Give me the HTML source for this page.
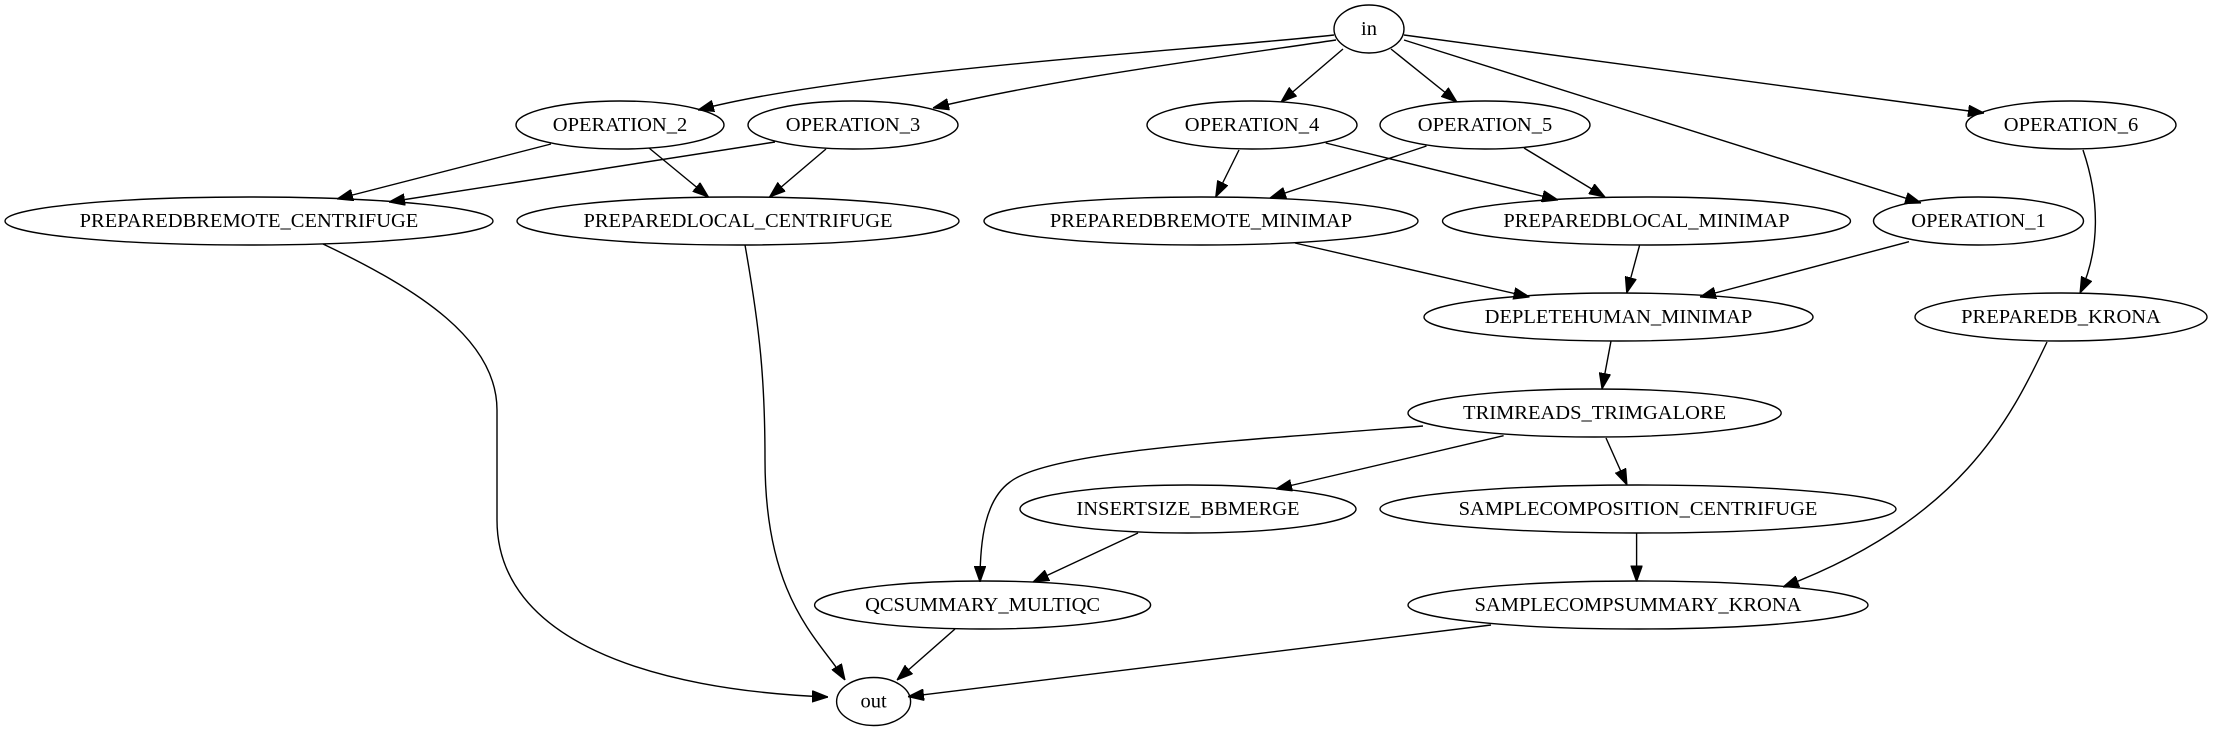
<!DOCTYPE html>
<html><head><meta charset="utf-8"><style>
html,body{margin:0;padding:0;background:#fff;}
svg{display:block;}
text{font-family:"Liberation Serif",serif;font-size:20.5px;fill:#000;text-anchor:middle;dominant-baseline:central;}
ellipse{fill:none;stroke:#000;stroke-width:1.4;}
path{fill:none;stroke:#000;stroke-width:1.4;}
</style></head><body>
<svg width="2213" height="731" viewBox="0 0 2213 731" xmlns="http://www.w3.org/2000/svg">
<defs><marker id="a" markerUnits="userSpaceOnUse" markerWidth="16" markerHeight="12" viewBox="0 0 14 10" refX="14" refY="5" orient="auto"><path d="M0,0 L14,5 L0,10 z" style="fill:#000;stroke:#000;stroke-width:1"/></marker></defs>
<g marker-end="url(#a)">
<path d="M1334,35 C1200,50 850,70 698,110"/>
<path d="M1336,40 C1200,60 1050,80 933,108"/>
<path d="M1343,49 L1281,102"/>
<path d="M1391,49 L1457,102"/>
<path d="M1404,40 L1921,203"/>
<path d="M1404,35 L1984,113"/>
<path d="M551,144 L337,199"/>
<path d="M649,148 L708.5,197"/>
<path d="M775,142 L389,202"/>
<path d="M826,149 L769.5,197"/>
<path d="M323,244 C420,290 497,340 497,410 L497,520 C497,640 650,690 828,697"/>
<path d="M745,245 C760,330 765,380 765,460 C765,600 820,640 845,680"/>
<path d="M1239,150 L1215.7,197"/>
<path d="M1325.7,143 L1558,200"/>
<path d="M1426.5,146 L1270,198"/>
<path d="M1524,148 L1605,197"/>
<path d="M2083,150 C2100,200 2100,250 2080,293"/>
<path d="M1295,243 L1529.5,297"/>
<path d="M1639.5,245.6 L1626.7,293"/>
<path d="M1909,241.7 L1700,297"/>
<path d="M1611,341 L1602,389"/>
<path d="M2047,342 C2010,420 1960,520 1783,587"/>
<path d="M1423,426 C1250,440 1050,450 1010,482 C985,500 980,540 980,582"/>
<path d="M1503.6,435.7 L1276,489"/>
<path d="M1606,438 L1627,485"/>
<path d="M1138,533 L1033,582"/>
<path d="M1636.6,533 L1636.6,581.7"/>
<path d="M955,629 L897,680"/>
<path d="M1491,625 L908,696.7"/>
</g>
<ellipse cx="1369" cy="29" rx="35" ry="24"/><text x="1369" y="29">in</text>
<ellipse cx="620" cy="125" rx="104" ry="24"/><text x="620" y="125">OPERATION_2</text>
<ellipse cx="853" cy="125" rx="105" ry="24"/><text x="853" y="125">OPERATION_3</text>
<ellipse cx="1252" cy="125" rx="105" ry="24"/><text x="1252" y="125">OPERATION_4</text>
<ellipse cx="1485" cy="125" rx="105" ry="24"/><text x="1485" y="125">OPERATION_5</text>
<ellipse cx="2071" cy="125" rx="105" ry="24"/><text x="2071" y="125">OPERATION_6</text>
<ellipse cx="249" cy="221" rx="244" ry="24"/><text x="249" y="221">PREPAREDBREMOTE_CENTRIFUGE</text>
<ellipse cx="738" cy="221" rx="221" ry="24"/><text x="738" y="221">PREPAREDLOCAL_CENTRIFUGE</text>
<ellipse cx="1201" cy="221" rx="217" ry="24"/><text x="1201" y="221">PREPAREDBREMOTE_MINIMAP</text>
<ellipse cx="1646.5" cy="221" rx="204" ry="24"/><text x="1646.5" y="221">PREPAREDBLOCAL_MINIMAP</text>
<ellipse cx="1978.5" cy="221" rx="105" ry="24"/><text x="1978.5" y="221">OPERATION_1</text>
<ellipse cx="1618.5" cy="317" rx="194.5" ry="24"/><text x="1618.5" y="317">DEPLETEHUMAN_MINIMAP</text>
<ellipse cx="2061" cy="317" rx="146" ry="24"/><text x="2061" y="317">PREPAREDB_KRONA</text>
<ellipse cx="1594.6" cy="413" rx="186.6" ry="24"/><text x="1594.6" y="413">TRIMREADS_TRIMGALORE</text>
<ellipse cx="1188" cy="509" rx="168" ry="24"/><text x="1188" y="509">INSERTSIZE_BBMERGE</text>
<ellipse cx="1638" cy="509" rx="258" ry="24"/><text x="1638" y="509">SAMPLECOMPOSITION_CENTRIFUGE</text>
<ellipse cx="982.6" cy="605" rx="168" ry="24"/><text x="982.6" y="605">QCSUMMARY_MULTIQC</text>
<ellipse cx="1638" cy="605" rx="230" ry="24"/><text x="1638" y="605">SAMPLECOMPSUMMARY_KRONA</text>
<ellipse cx="873.6" cy="701.5" rx="37" ry="24"/><text x="873.6" y="701.5">out</text>
</svg>
</body></html>
